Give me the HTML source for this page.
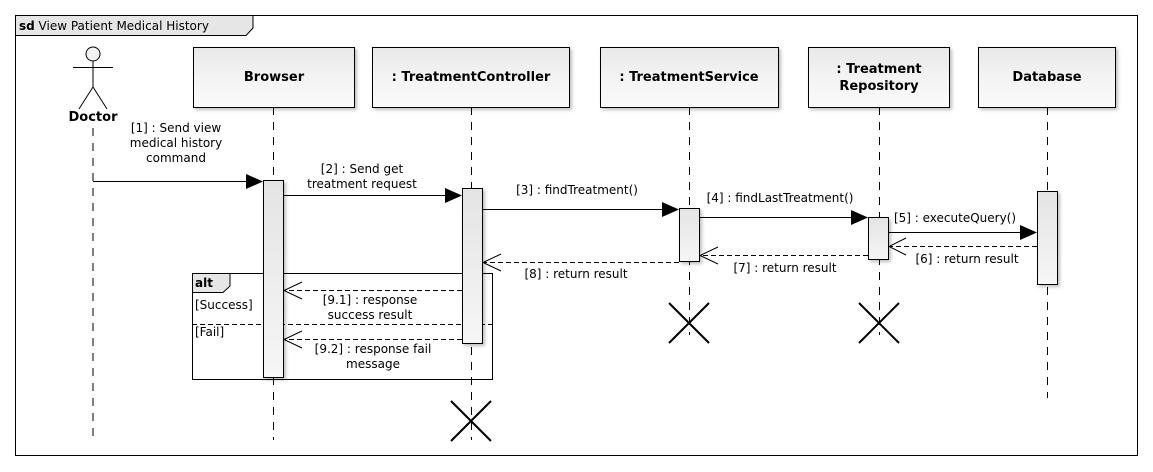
<!DOCTYPE html>
<html><head><meta charset="utf-8"><style>
body{margin:0;background:#fff}
svg{display:block;font-family:"DejaVu Sans","Liberation Sans",sans-serif}
</style></head><body>
<svg width="1153" height="472" viewBox="0 0 1153 472" xmlns="http://www.w3.org/2000/svg">
<defs>
<linearGradient id="g" x1="0" y1="0" x2="0" y2="1"><stop offset="0" stop-color="#e8e8e8"/><stop offset="0.5" stop-color="#f4f4f4"/><stop offset="1" stop-color="#fafafa"/></linearGradient>
<linearGradient id="a" x1="0" y1="0" x2="0" y2="1"><stop offset="0" stop-color="#e4e4e4"/><stop offset="1" stop-color="#f6f6f6"/></linearGradient>
<filter id="s" x="-10%" y="-10%" width="130%" height="130%"><feDropShadow dx="2" dy="2" stdDeviation="1.5" flood-color="#000" flood-opacity="0.25"/></filter>
</defs>
<rect x="15.5" y="15.5" width="1122" height="440" fill="#fff" stroke="#000"/>
<path d="M15.5 15.5 H253 V28 L246 35.5 H15.5 Z" fill="#e6e6e6" stroke="#000"/>
<text x="19" y="30" font-size="12"><tspan font-weight="bold">sd</tspan> View Patient Medical History</text>

<g stroke="#000" stroke-dasharray="8,7" fill="none">
<line x1="93" y1="128" x2="93" y2="440"/>
<line x1="273.5" y1="107" x2="273.5" y2="440"/>
<line x1="471.5" y1="107" x2="471.5" y2="440"/>
<line x1="689.5" y1="107" x2="689.5" y2="335"/>
<line x1="879.5" y1="107" x2="879.5" y2="335"/>
<line x1="1047.5" y1="107" x2="1047.5" y2="398"/>
</g>

<g stroke="#000" fill="url(#g)" filter="url(#s)">
<rect x="193.5" y="47.5" width="161" height="60"/>
<rect x="372.5" y="47.5" width="197" height="60"/>
<rect x="600.5" y="47.5" width="178" height="60"/>
<rect x="808.5" y="47.5" width="141" height="60"/>
<rect x="978.5" y="47.5" width="137" height="60"/>
</g>
<g font-size="13" font-weight="bold" text-anchor="middle">
<text x="274" y="81">Browser</text>
<text x="471" y="81">: TreatmentController</text>
<text x="689" y="81">: TreatmentService</text>
<text x="879" y="73">: Treatment</text>
<text x="879" y="90">Repository</text>
<text x="1047" y="81">Database</text>
</g>

<g stroke="#000" fill="none">
<circle cx="93" cy="54" r="7" fill="#f2f2f2"/>
<line x1="73" y1="67.5" x2="113" y2="67.5"/>
<line x1="93" y1="61" x2="93" y2="87"/>
<line x1="93" y1="87" x2="79" y2="109"/>
<line x1="93" y1="87" x2="107" y2="109"/>
</g>
<text x="93" y="121" font-size="13" font-weight="bold" text-anchor="middle">Doctor</text>

<!-- alt frame -->
<rect x="192.5" y="273.5" width="300" height="106" fill="none" stroke="#000"/>
<path d="M192.5 273.5 H230 V286 L223 292.5 H192.5 Z" fill="#e6e6e6" stroke="#000"/>
<text x="195" y="287" font-size="12" font-weight="bold">alt</text>
<text x="195" y="309" font-size="12">[Success]</text>
<line x1="192" y1="324.5" x2="492" y2="324.5" stroke="#000" stroke-dasharray="5,3"/>
<text x="195" y="336" font-size="12">[Fail]</text>

<g stroke="#000" fill="url(#a)" filter="url(#s)">
<rect x="263.5" y="180.5" width="20" height="197"/>
<rect x="462.5" y="188.5" width="20" height="155"/>
<rect x="679.5" y="208.5" width="20" height="53"/>
<rect x="868.5" y="217.5" width="20" height="42"/>
<rect x="1037.5" y="191.5" width="20" height="93"/>
</g>

<g stroke="#000" fill="none">
<line x1="93" y1="181.5" x2="248" y2="181.5"/>
<line x1="283" y1="195.5" x2="446" y2="195.5"/>
<line x1="482" y1="209.5" x2="664" y2="209.5"/>
<line x1="699" y1="217.5" x2="853" y2="217.5"/>
<line x1="888" y1="232.5" x2="1022" y2="232.5"/>
</g>
<g fill="#000">
<polygon points="263,181.5 246,174 246,189"/>
<polygon points="462,195.5 445,188 445,203"/>
<polygon points="679,209.5 662,202 662,217"/>
<polygon points="868,217.5 851,210 851,225"/>
<polygon points="1037,232.5 1020,225 1020,240"/>
</g>
<g stroke="#000" fill="none" stroke-dasharray="5,3">
<line x1="1037" y1="246.5" x2="890" y2="246.5"/>
<line x1="868" y1="255.5" x2="701" y2="255.5"/>
<line x1="679" y1="262.5" x2="484" y2="262.5"/>
<line x1="462" y1="290.5" x2="285" y2="290.5"/>
<line x1="462" y1="339.5" x2="285" y2="339.5"/>
</g>
<g stroke="#000" fill="none">
<polyline points="906,238 889,246.5 906,255"/>
<polyline points="718,247 700,255.5 718,264"/>
<polyline points="501,254 483,262.5 501,271"/>
<polyline points="302,282 284,290.5 302,299"/>
<polyline points="302,331 284,339.5 302,348"/>
</g>

<g stroke="#000" stroke-width="2">
<line x1="669" y1="303" x2="709" y2="343"/><line x1="709" y1="303" x2="669" y2="343"/>
<line x1="859" y1="303" x2="899" y2="343"/><line x1="899" y1="303" x2="859" y2="343"/>
<line x1="451" y1="401" x2="491" y2="441"/><line x1="491" y1="401" x2="451" y2="441"/>
</g>

<g font-size="12" text-anchor="middle">
<text x="176" y="132">[1] : Send view</text>
<text x="176" y="147">medical history</text>
<text x="176" y="162">command</text>
<text x="362" y="173">[2] : Send get</text>
<text x="362" y="188">treatment request</text>
<text x="577" y="194">[3] : findTreatment()</text>
<text x="780" y="202">[4] : findLastTreatment()</text>
<text x="955" y="222">[5] : executeQuery()</text>
<text x="967" y="263">[6] : return result</text>
<text x="785" y="272">[7] : return result</text>
<text x="576" y="278">[8] : return result</text>
<text x="370" y="304">[9.1] : response</text>
<text x="370" y="319">success result</text>
<text x="373" y="353">[9.2] : response fail</text>
<text x="373" y="368">message</text>
</g>
</svg>
</body></html>
